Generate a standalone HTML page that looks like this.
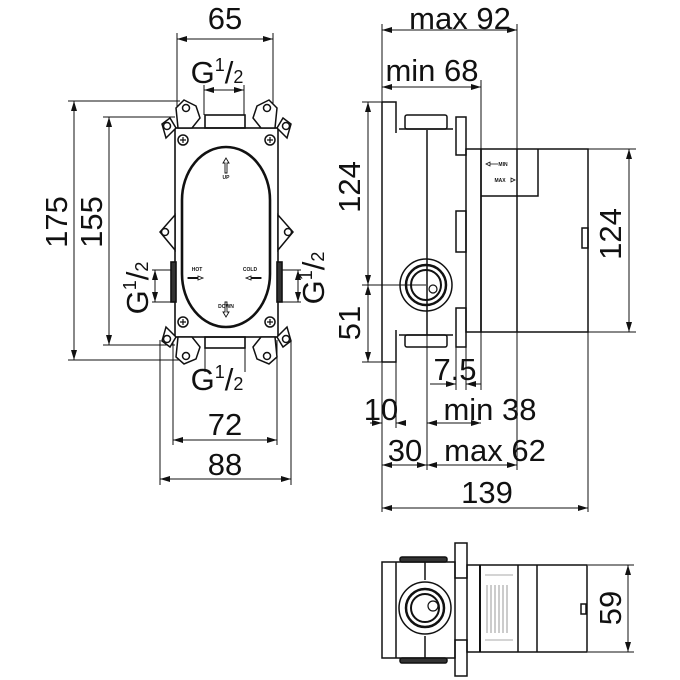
<!DOCTYPE html>
<html><head><meta charset="utf-8"><style>
html,body{margin:0;padding:0;background:#fff;}
svg{display:block;}
text{font-family:"Liberation Sans",sans-serif;fill:#111;}
</style></head><body>
<svg width="680" height="680" viewBox="0 0 680 680" xmlns="http://www.w3.org/2000/svg">
<defs>
<marker id="a" viewBox="0 0 10 6" refX="10" refY="3" markerWidth="10" markerHeight="6" orient="auto-start-reverse" markerUnits="userSpaceOnUse"><path d="M0,0L10,3L0,6z" fill="#111"/></marker>
</defs>
<g stroke="#111" stroke-width="1" fill="none">
<line x1="177" y1="33" x2="177" y2="110"/><line x1="273" y1="33" x2="273" y2="110"/>
<line x1="177" y1="39" x2="273" y2="39" marker-start="url(#a)" marker-end="url(#a)"/>
<line x1="204" y1="85" x2="204" y2="115"/><line x1="244" y1="85" x2="244" y2="115"/>
<line x1="204" y1="90" x2="244" y2="90" marker-start="url(#a)" marker-end="url(#a)"/>
<line x1="68" y1="101" x2="180" y2="101"/><line x1="68" y1="360" x2="180" y2="360"/>
<line x1="74" y1="101" x2="74" y2="360" marker-start="url(#a)" marker-end="url(#a)"/>
<line x1="103" y1="117" x2="175" y2="117"/><line x1="103" y1="345" x2="175" y2="345"/>
<line x1="109" y1="117" x2="109" y2="345" marker-start="url(#a)" marker-end="url(#a)"/>
<line x1="152" y1="270" x2="172" y2="270"/><line x1="152" y1="302" x2="172" y2="302"/>
<line x1="155" y1="270" x2="155" y2="302" marker-start="url(#a)" marker-end="url(#a)"/>
<line x1="280" y1="270" x2="301" y2="270"/><line x1="280" y1="302" x2="301" y2="302"/>
<line x1="298" y1="270" x2="298" y2="302" marker-start="url(#a)" marker-end="url(#a)"/>
<line x1="205" y1="348" x2="205" y2="372"/><line x1="245" y1="348" x2="245" y2="372"/>
<line x1="173" y1="340" x2="173" y2="445"/><line x1="277" y1="340" x2="277" y2="445"/>
<line x1="173" y1="440" x2="277" y2="440" marker-start="url(#a)" marker-end="url(#a)"/>
<line x1="160" y1="340" x2="160" y2="485"/><line x1="291" y1="340" x2="291" y2="485"/>
<line x1="160" y1="479" x2="291" y2="479" marker-start="url(#a)" marker-end="url(#a)"/>
<g stroke-width="1.6">
<rect x="175" y="128" width="103" height="209"/>
<rect x="205" y="115" width="40" height="13"/>
<rect x="205" y="337" width="40" height="11"/>
<rect x="171" y="262" width="5" height="40" fill="#333"/>
<rect x="277" y="262" width="5" height="40" fill="#333"/>
</g>
<path d="M182,200 A44,53 0 0 1 270,200 L270,274 A44,53 0 0 1 182,274 Z" stroke-width="2.6"/>
<g stroke-width="1.5" fill="#fff">
<path d="M176,128 L170,118 L162,124 L166,138 Z"/><circle cx="167" cy="126" r="3.5"/>
<path d="M178,128 L176,108 L184,100 L196,106 L200,118 L192,128 Z"/><circle cx="186" cy="108" r="3.5"/>
<path d="M277,128 L283,118 L291,124 L287,138 Z"/><circle cx="286" cy="126" r="3.5"/>
<path d="M275,128 L277,108 L269,100 L257,106 L253,118 L261,128 Z"/><circle cx="267" cy="108" r="3.5"/>
<path d="M176,337 L170,347 L162,341 L166,327 Z"/><circle cx="167" cy="339" r="3.5"/>
<path d="M178,337 L176,357 L184,364 L196,359 L200,347 L192,337 Z"/><circle cx="186" cy="356" r="3.5"/>
<path d="M277,337 L283,347 L291,341 L287,327 Z"/><circle cx="286" cy="339" r="3.5"/>
<path d="M275,337 L277,357 L269,364 L257,359 L253,347 L261,337 Z"/><circle cx="267" cy="356" r="3.5"/>
<path d="M175,215 L160,232 L175,250 Z"/><circle cx="165" cy="232" r="3.5"/>
<path d="M278,215 L293,232 L278,250 Z"/><circle cx="288" cy="232" r="3.5"/>
<circle cx="183" cy="140" r="5"/><circle cx="270" cy="140" r="5"/>
<circle cx="183" cy="322" r="5"/><circle cx="270" cy="322" r="5"/>
</g>
<path d="M180,140h6M183,137v6M267,140h6M270,137v6M180,322h6M183,319v6M267,322h6M270,319v6" stroke-width="1.2"/>
<path d="M226,158 l-3,5 h2 v10 h2 v-10 h2 z M226,317 l-3,-5 h2 v-10 h2 v10 h2 z M203,278 l-5,-2 v1.5 h-10 v1 h10 v1.5z M246,278 l5,-2 v1.5 h10 v1 h-10 v1.5z" stroke-width="0.9"/>

<line x1="382" y1="24" x2="382" y2="512"/><line x1="517" y1="24" x2="517" y2="470"/>
<line x1="382" y1="30" x2="517" y2="30" marker-start="url(#a)" marker-end="url(#a)"/>
<line x1="481" y1="80" x2="481" y2="390"/>
<line x1="382" y1="87" x2="481" y2="87" marker-start="url(#a)" marker-end="url(#a)"/>
<line x1="362" y1="102" x2="382" y2="102"/><line x1="362" y1="362" x2="382" y2="362"/>
<line x1="368" y1="102" x2="368" y2="285" marker-start="url(#a)" marker-end="url(#a)"/>
<line x1="368" y1="285" x2="368" y2="362" marker-start="url(#a)" marker-end="url(#a)"/>
<line x1="362" y1="285" x2="426" y2="285"/>
<line x1="588" y1="149" x2="636" y2="149"/><line x1="588" y1="332" x2="636" y2="332"/>
<line x1="629" y1="149" x2="629" y2="332" marker-start="url(#a)" marker-end="url(#a)"/>
<line x1="396" y1="362" x2="396" y2="428"/><line x1="427" y1="335" x2="427" y2="470"/>
<line x1="456" y1="347" x2="456" y2="390"/><line x1="466" y1="347" x2="466" y2="390"/>
<line x1="588" y1="332" x2="588" y2="512"/>
<line x1="430" y1="384" x2="456" y2="384" marker-end="url(#a)"/>
<line x1="466" y1="384" x2="481" y2="384" marker-start="url(#a)"/>
<line x1="370" y1="423" x2="382" y2="423" marker-end="url(#a)"/>
<line x1="396" y1="423" x2="406" y2="423" marker-start="url(#a)"/>
<line x1="427" y1="423" x2="481" y2="423" marker-start="url(#a)" marker-end="url(#a)"/>
<line x1="382" y1="465" x2="427" y2="465" marker-start="url(#a)" marker-end="url(#a)"/>
<line x1="427" y1="465" x2="517" y2="465" marker-start="url(#a)" marker-end="url(#a)"/>
<line x1="382" y1="508" x2="588" y2="508" marker-start="url(#a)" marker-end="url(#a)"/>
<g stroke-width="1.5">
<path d="M382,102 H396 V133"/>
<path d="M396,330 V362 H382"/>
<line x1="382" y1="102" x2="382" y2="362"/>
<line x1="427" y1="130" x2="427" y2="335"/>
<rect x="405" y="115" width="42" height="14" rx="2"/><line x1="399" y1="129" x2="453" y2="129"/>
<rect x="405" y="335" width="42" height="12" rx="2"/><line x1="399" y1="335" x2="453" y2="335"/>
<rect x="456" y="117" width="10" height="38"/>
<rect x="456" y="211" width="10" height="41"/>
<rect x="456" y="308" width="10" height="39"/>
<rect x="466" y="149" width="15" height="183"/>
<rect x="481" y="149" width="107" height="183"/>
<line x1="517" y1="149" x2="517" y2="332"/>
<path d="M481,196 H538 V149"/>
<rect x="582" y="228" width="6" height="20"/>
</g>
<circle cx="426" cy="285" r="26" stroke-width="1.5"/>
<circle cx="426" cy="285" r="20" stroke-width="2.5"/>
<circle cx="426" cy="285" r="15" stroke-width="2"/>
<circle cx="433" cy="289" r="4" stroke-width="1.2"/>
<path d="M486,164 l4,-2 v4 z M490,164 h8" stroke-width="0.8"/>
<path d="M515,180 l-4,-2 v4 z" stroke-width="0.8"/>

<g stroke-width="1.5">
<rect x="382" y="562" width="73" height="96"/>
<line x1="396" y1="562" x2="396" y2="658"/>
<line x1="425" y1="562" x2="425" y2="580"/><line x1="425" y1="636" x2="425" y2="658"/>
<rect x="400" y="557" width="47" height="5" rx="2" fill="#333"/>
<rect x="400" y="658" width="47" height="5" rx="2" fill="#333"/>
<rect x="455" y="543" width="12" height="35"/>
<rect x="455" y="640" width="12" height="36"/>
<rect x="467" y="565" width="120" height="87"/>
<line x1="480" y1="565" x2="480" y2="652" stroke-width="2"/>
<line x1="518" y1="565" x2="518" y2="652"/>
<line x1="537" y1="565" x2="537" y2="652"/>
<rect x="581" y="604" width="5" height="10"/>
</g>
<circle cx="425" cy="608" r="26" stroke-width="1.5"/>
<circle cx="425" cy="608" r="19" stroke-width="2.5"/>
<circle cx="425" cy="608" r="14" stroke-width="2"/>
<circle cx="433" cy="606" r="5" stroke-width="1.2"/>
<path d="M485,575h28M485,640h28M487,585v48M491,585v48M495,585v48M499,585v48M503,585v48M507,585v48" stroke-width="0.6" stroke="#555"/>
<line x1="588" y1="565" x2="634" y2="565"/><line x1="588" y1="652" x2="634" y2="652"/>
<line x1="628" y1="565" x2="628" y2="652" marker-start="url(#a)" marker-end="url(#a)"/>
</g>

<g font-size="5" font-weight="bold" text-anchor="middle">
<text x="226" y="179">UP</text>
<text x="226" y="308">DOWN</text>
<text x="197" y="271">HOT</text>
<text x="250" y="271">COLD</text>
<text x="503" y="166">MIN</text>
<text x="500" y="182">MAX</text>
</g>

<g font-size="31" text-anchor="middle">
<text x="225" y="29">65</text>
<text x="460" y="29">max 92</text>
<text x="432" y="81">min 68</text>
<text x="455" y="380">7.5</text>
<text x="381" y="420">10</text>
<text x="490" y="420">min 38</text>
<text x="405" y="461">30</text>
<text x="495" y="461">max 62</text>
<text x="487" y="503">139</text>
<text x="225" y="435">72</text>
<text x="225" y="475">88</text>
<text transform="translate(67,222) rotate(-90)">175</text>
<text transform="translate(102,222) rotate(-90)">155</text>
<text transform="translate(360,187) rotate(-90)">124</text>
<text transform="translate(360,323) rotate(-90)">51</text>
<text transform="translate(621,234) rotate(-90)">124</text>
<text transform="translate(621,608) rotate(-90)">59</text>
<text x="217" y="83">G<tspan font-size="18" dy="-12">1</tspan><tspan dy="12">/</tspan><tspan font-size="18" dy="0">2</tspan></text>
<text x="217" y="390">G<tspan font-size="18" dy="-12">1</tspan><tspan dy="12">/</tspan><tspan font-size="18" dy="0">2</tspan></text>
<text transform="translate(148,288) rotate(-90)">G<tspan font-size="18" dy="-12">1</tspan><tspan dy="12">/</tspan><tspan font-size="18" dy="0">2</tspan></text>
<text transform="translate(324,278) rotate(-90)">G<tspan font-size="18" dy="-12">1</tspan><tspan dy="12">/</tspan><tspan font-size="18" dy="0">2</tspan></text>
</g>
</svg>
</body></html>
